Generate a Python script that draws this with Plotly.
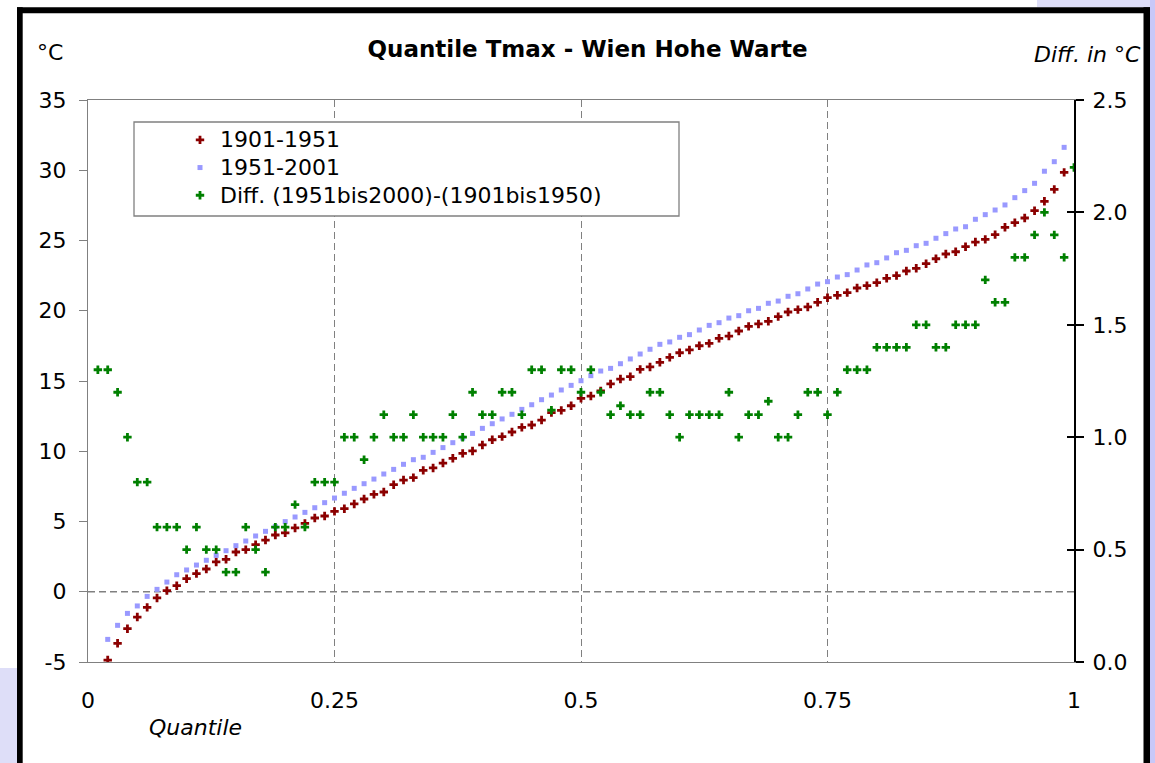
import plotly.graph_objects as go

# ---------------- data ----------------
QUANTILES = [0.01, 0.02, 0.03, 0.04, 0.05, 0.06, 0.07, 0.08, 0.09, 0.10,
             0.11, 0.12, 0.13, 0.14, 0.15, 0.16, 0.17, 0.18, 0.19, 0.20,
             0.21, 0.22, 0.23, 0.24, 0.25, 0.26, 0.27, 0.28, 0.29, 0.30,
             0.31, 0.32, 0.33, 0.34, 0.35, 0.36, 0.37, 0.38, 0.39, 0.40,
             0.41, 0.42, 0.43, 0.44, 0.45, 0.46, 0.47, 0.48, 0.49, 0.50,
             0.51, 0.52, 0.53, 0.54, 0.55, 0.56, 0.57, 0.58, 0.59, 0.60,
             0.61, 0.62, 0.63, 0.64, 0.65, 0.66, 0.67, 0.68, 0.69, 0.70,
             0.71, 0.72, 0.73, 0.74, 0.75, 0.76, 0.77, 0.78, 0.79, 0.80,
             0.81, 0.82, 0.83, 0.84, 0.85, 0.86, 0.87, 0.88, 0.89, 0.90,
             0.91, 0.92, 0.93, 0.94, 0.95, 0.96, 0.97, 0.98, 0.99, 1.00]

# temperature quantiles shown for 0.02 .. 0.99
QUANTILES_T = QUANTILES[1:99]

T_1901_1951 = [-4.86, -3.67, -2.63, -1.80, -1.11, -0.44, 0.08, 0.43, 0.93,
               1.29, 1.62, 2.12, 2.31, 2.83, 3.00, 3.35, 3.68, 4.04, 4.19,
               4.54, 4.87, 5.25, 5.39, 5.72, 5.91, 6.25, 6.60, 6.93, 7.10,
               7.62, 7.95, 8.12, 8.64, 8.81, 9.16, 9.50, 9.85, 10.02, 10.45,
               10.82, 11.04, 11.37, 11.70, 11.87, 12.22, 12.75, 12.91, 13.24, 13.77,
               13.93, 14.29, 14.79, 15.14, 15.31, 15.83, 16.00, 16.33, 16.68, 17.01,
               17.21, 17.51, 17.68, 18.04, 18.20, 18.56, 18.89, 19.06, 19.25, 19.58,
               19.91, 20.08, 20.27, 20.60, 20.93, 21.10, 21.29, 21.62, 21.79, 22.00,
               22.31, 22.50, 22.83, 23.02, 23.35, 23.70, 24.04, 24.20, 24.56, 24.89,
               25.08, 25.42, 25.94, 26.27, 26.60, 27.12, 27.79, 28.64, 29.85]

T_1951_2001 = [-3.39, -2.39, -1.54, -1.01, -0.33, 0.17, 0.69, 1.21, 1.55,
               1.90, 2.24, 2.59, 2.92, 3.28, 3.61, 3.97, 4.30, 4.63, 4.99,
               5.32, 5.65, 5.98, 6.34, 6.67, 7.01, 7.36, 7.69, 8.02, 8.38,
               8.71, 9.07, 9.40, 9.57, 9.92, 10.26, 10.61, 10.94, 11.27, 11.63,
               11.96, 12.30, 12.63, 12.98, 13.31, 13.67, 14.00, 14.36, 14.69, 15.02,
               15.38, 15.71, 15.90, 16.23, 16.57, 16.92, 17.26, 17.61, 17.78, 18.11,
               18.30, 18.63, 18.96, 19.15, 19.48, 19.65, 20.00, 20.17, 20.53, 20.69,
               21.03, 21.21, 21.55, 21.90, 22.07, 22.40, 22.57, 22.90, 23.26, 23.42,
               23.76, 24.13, 24.30, 24.63, 24.80, 25.16, 25.49, 25.82, 25.98, 26.51,
               26.84, 27.17, 27.53, 28.05, 28.55, 29.07, 29.93, 30.61, 31.63]

DIFF = [1.3, 1.3, 1.2, 1.0, 0.8, 0.8, 0.6, 0.6, 0.6, 0.5,
        0.6, 0.5, 0.5, 0.4, 0.4, 0.6, 0.5, 0.4, 0.6, 0.6,
        0.7, 0.6, 0.8, 0.8, 0.8, 1.0, 1.0, 0.9, 1.0, 1.1,
        1.0, 1.0, 1.1, 1.0, 1.0, 1.0, 1.1, 1.0, 1.2, 1.1,
        1.1, 1.2, 1.2, 1.1, 1.3, 1.3, 1.12, 1.3, 1.3, 1.2,
        1.3, 1.2, 1.1, 1.14, 1.1, 1.1, 1.2, 1.2, 1.1, 1.0,
        1.1, 1.1, 1.1, 1.1, 1.2, 1.0, 1.1, 1.1, 1.16, 1.0,
        1.0, 1.1, 1.2, 1.2, 1.1, 1.2, 1.3, 1.3, 1.3, 1.4,
        1.4, 1.4, 1.4, 1.5, 1.5, 1.4, 1.4, 1.5, 1.5, 1.5,
        1.7, 1.6, 1.6, 1.8, 1.8, 1.9, 2.0, 1.9, 1.8, 2.2]

SERIES_NAMES = ["1901-1951", "1951-2001", "Diff. (1951bis2000)-(1901bis1950)"]

X_TICKS = [0, 0.25, 0.5, 0.75, 1]
X_TICK_TEXT = ["0", "0.25", "0.5", "0.75", "1"]
Y_TICKS = [-5, 0, 5, 10, 15, 20, 25, 30, 35]
Y_TICK_TEXT = ["-5", "0", "5", "10", "15", "20", "25", "30", "35"]
Y2_TICKS = [0, 0.5, 1.0, 1.5, 2.0, 2.5]
Y2_TICK_TEXT = ["0.0", "0.5", "1.0", "1.5", "2.0", "2.5"]

TITLE = "Quantile Tmax - Wien Hohe Warte"

# ---------------- layout geometry ----------------
W, H = 1155, 763
ML, MR, MT, MB = 88, 81, 100, 101
PW = W - ML - MR
PH = H - MT - MB


def px2x(px):
    return (px - ML) / PW


def py2y(py):
    return (H - MB - py) / PH


FONT = "DejaVu Sans"
FS = 22
GRAY = "#808080"
RED = "#8B0000"
BLUE = "#9999FF"
GREEN = "#008000"
LAVENDER = "#DEDEF8"


def legend_label(name):
    return '<span style="font-size:%dpx">%s</span>' % (FS, name)


fig = go.Figure()

fig.add_trace(go.Scatter(
    x=QUANTILES_T, y=T_1901_1951, mode="markers",
    name=legend_label(SERIES_NAMES[0]),
    marker=dict(symbol="cross", size=7, color=RED, line=dict(width=0)),
    yaxis="y", hoverinfo="skip"))
fig.add_trace(go.Scatter(
    x=QUANTILES_T, y=T_1951_2001, mode="markers",
    name=legend_label(SERIES_NAMES[1]),
    marker=dict(symbol="square", size=5, color=BLUE, line=dict(width=0)),
    yaxis="y", hoverinfo="skip"))
fig.add_trace(go.Scatter(
    x=QUANTILES, y=DIFF, mode="markers",
    name=legend_label(SERIES_NAMES[2]),
    marker=dict(symbol="cross", size=7, color=GREEN, line=dict(width=0)),
    yaxis="y2", hoverinfo="skip"))
# empty trace so the inner tick overlay axis is drawn
fig.add_trace(go.Scatter(x=[], y=[], yaxis="y3", showlegend=False,
                         hoverinfo="skip"))


def rect(x0, y0, x1, y1, color, layer="above", line=None):
    return dict(type="rect", xref="paper", yref="paper",
                x0=px2x(x0), x1=px2x(x1), y0=py2y(y0), y1=py2y(y1),
                fillcolor=color, layer=layer,
                line=line if line else dict(width=0))


shapes = [
    # page background patches
    rect(0, 668, 17, 763, LAVENDER),
    rect(1037, 0, 1155, 7.3, LAVENDER),
    rect(1150, 0, 1155, 763, "#C8C8F8"),
    # black frame
    rect(17, 7.3, 22.7, 763, "black"),
    rect(17, 7.3, 1150, 13.3, "black"),
    rect(1143.5, 7.3, 1150, 763, "black"),
    # legend box
    rect(134, 122, 679, 216, "white", layer="above",
         line=dict(color=GRAY, width=1.3)),
    # dashed zero line
    dict(type="line", xref="paper", yref="y", x0=0, x1=1, y0=0, y1=0,
         line=dict(color=GRAY, width=1.3, dash="7px,4px"), layer="below"),
]

annotations = [
    dict(text="°C", xref="paper", yref="paper", x=px2x(49.5), y=py2y(52),
         xanchor="center", yanchor="middle", showarrow=False,
         font=dict(family=FONT, size=FS, color="black")),
    dict(text="<i>Diff. in °C</i>", xref="paper", yref="paper",
         x=px2x(1087), y=py2y(55), xanchor="center", yanchor="middle",
         showarrow=False, font=dict(family=FONT, size=FS, color="black")),
    dict(text="<i>Quantile</i>", xref="paper", yref="paper",
         x=px2x(195), y=py2y(727), xanchor="center", yanchor="middle",
         showarrow=False, font=dict(family=FONT, size=FS, color="black")),
]

fig.update_layout(
    width=W, height=H, autosize=False,
    margin=dict(l=ML, r=MR, t=MT, b=MB, pad=0),
    paper_bgcolor="white", plot_bgcolor="white",
    font=dict(family=FONT, size=FS, color="black"),
    title=dict(text="<b>" + TITLE + "</b>", xref="paper", x=px2x(587.5),
               xanchor="center", yref="container", y=1 - 49 / H,
               yanchor="middle", font=dict(family=FONT, size=23, color="black")),
    xaxis=dict(range=[0, 1], tickvals=X_TICKS, ticktext=X_TICK_TEXT,
               ticks="", showline=True, linecolor=GRAY, linewidth=1.3,
               mirror=True, showgrid=True, gridcolor=GRAY, gridwidth=1.3,
               griddash="7px,4px", zeroline=False, ticklabelstandoff=18,
               tickfont=dict(family=FONT, size=FS, color="black")),
    yaxis=dict(range=[-5, 35], tickvals=Y_TICKS, ticktext=Y_TICK_TEXT,
               ticks="outside", ticklen=8, tickcolor=GRAY, tickwidth=1.3,
               showline=True, linecolor=GRAY, linewidth=1.3,
               showgrid=False, zeroline=False, ticklabelstandoff=8,
               tickfont=dict(family=FONT, size=FS, color="black")),
    yaxis2=dict(range=[0, 2.5], tickvals=Y2_TICKS, ticktext=Y2_TICK_TEXT,
                overlaying="y", side="right", anchor="x",
                ticks="outside", ticklen=8, tickcolor="black", tickwidth=1.6,
                showline=True, linecolor="black", linewidth=2,
                showgrid=False, zeroline=False, ticklabelstandoff=4,
                tickfont=dict(family=FONT, size=FS, color="black")),
    yaxis3=dict(range=[0, 2.5], tickvals=Y2_TICKS, overlaying="y",
                side="right", anchor="x", ticks="inside", ticklen=7,
                tickcolor="black", tickwidth=1.6, showticklabels=False,
                showline=False, showgrid=False, zeroline=False),
    legend=dict(x=px2x(180), y=py2y(121), xanchor="left", yanchor="top",
                bgcolor="rgba(0,0,0,0)", borderwidth=0,
                font=dict(family=FONT, size=19, color="black"),
                traceorder="normal"),
    shapes=shapes,
    annotations=annotations,
    showlegend=True,
)

fig.write_html(
    "out.html",
    config={"displayModeBar": False},
    post_script="document.body.style.margin='0px';"
                "document.body.style.overflow='hidden';")
